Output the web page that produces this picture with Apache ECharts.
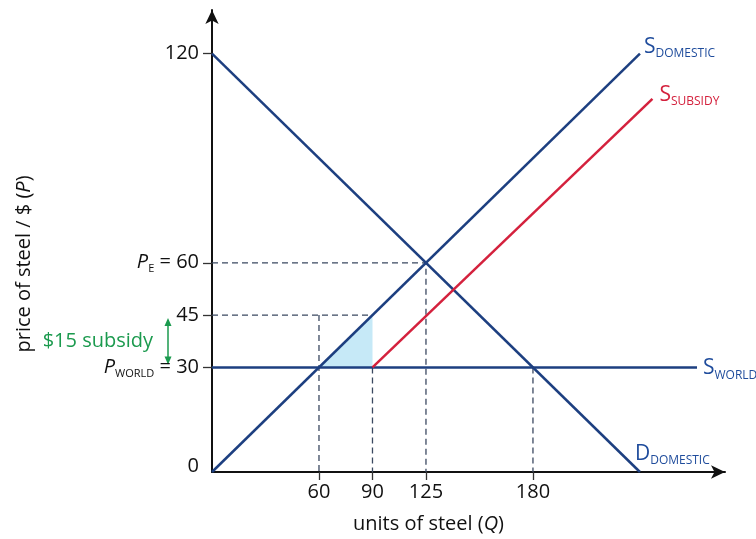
<!DOCTYPE html>
<html><head><meta charset="utf-8">
<script src="https://cdn.jsdelivr.net/npm/echarts@6/dist/echarts.min.js"></script>
<style>html,body{margin:0;padding:0;background:#fff}#c{width:756px;height:539px}</style>
</head><body><div id="c"></div>
<script>
// ---- data ----
const sDomesticQ = [0, 240];
const sDomesticP = [0, 120];
const dDomesticQ = [0, 240];
const dDomesticP = [120, 0];
const sSubsidyQ = [90, 247];
const sSubsidyP = [30, 107];
const sWorldQ = [0, 272];
const sWorldP = [30, 30];
const gainQ = [60, 90, 90];
const gainP = [30, 30, 45];
const guidePEQ = [0, 120, 120];
const guidePEP = [60, 60, 0];
const guide45Q = [0, 90];
const guide45P = [45, 45];
const guide60Q = [60, 60];
const guide60P = [45, 0];
const guide90Q = [90, 90];
const guide90P = [30, 0];
const guide180Q = [180, 180];
const guide180P = [30, 0];
const xTickValues = [60, 90, 120, 180];
const xTickLabels = ['60', '90', '125', '180'];
const yTickValues = [0, 30, 45, 60, 120];
const yTickLabels = ['{z|0}', '{i|P}{sub|WORLD}{n| = 30}', '45', '{i|P}{sub|E}{n| = 60}', '120'];
const yTickMarks = [30, 45, 60, 120];
const subsidyLow = 30, subsidyHigh = 45;

const FONT = 'Open Sans';
const BLUE = '#1d3f80';
const BLUE_TXT = '#1f4c9c';
const RED = '#d4213d';
const GREEN = '#1b9a4e';
const DASH = '#3a4860';

const zip = (a, b) => a.map((v, i) => [v, b[i]]);

const chart = echarts.init(document.getElementById('c'), null, {renderer: 'canvas'});

function guide(q, p) {
  return {type: 'line', data: zip(q, p), symbol: 'none', silent: true, z: 1,
    lineStyle: {color: DASH, width: 1.3, type: [6, 4]}};
}
function endLbl(main, sub, color, off) {
  return {show: true, formatter: '{m|' + main + '}{s|' + sub + '}', offset: off, distance: 0,
    rich: {
      m: {fontFamily: FONT, fontSize: 21, color: color, lineHeight: 26},
      s: {fontFamily: FONT, fontSize: 12, color: color, lineHeight: 9, verticalAlign: 'bottom'}
    }};
}

chart.setOption({
  animation: false,
  backgroundColor: '#fff',
  grid: {left: 212, top: 10, right: 31, bottom: 63},
  xAxis: {
    type: 'value', min: 0, max: 287.7,
    splitLine: {show: false},
    axisLine: {show: true, onZero: false, symbol: ['none', 'arrow'], symbolSize: [10, 14],
      lineStyle: {color: '#111', width: 2}},
    axisTick: {show: true, customValues: xTickValues, length: 8, lineStyle: {color: '#333', width: 1.3}},
    axisLabel: {customValues: xTickValues, margin: 10,
      formatter: v => xTickLabels[xTickValues.indexOf(v)],
      fontFamily: FONT, fontSize: 20, color: '#111'},
    name: '{n|units of steel (}{i|Q}{n|)}', nameLocation: 'middle', nameGap: 42,
    nameTextStyle: {padding: [0, 80, 0, 0], rich: {
      n: {fontFamily: FONT, fontSize: 20, color: '#111'},
      i: {fontFamily: FONT, fontSize: 20, color: '#111', fontStyle: 'italic'}}}
  },
  yAxis: {
    type: 'value', min: 0, max: 132.5,
    splitLine: {show: false},
    axisLine: {show: true, onZero: false, symbol: ['none', 'arrow'], symbolSize: [10, 14],
      lineStyle: {color: '#111', width: 2}},
    axisTick: {show: true, customValues: yTickMarks, length: 9, lineStyle: {color: '#333', width: 1.3}},
    axisLabel: {customValues: yTickValues, margin: 13,
      formatter: v => yTickLabels[yTickValues.indexOf(v)],
      fontFamily: FONT, fontSize: 20, color: '#111',
      rich: {
        n: {fontFamily: FONT, fontSize: 20, color: '#111', lineHeight: 24},
        i: {fontFamily: FONT, fontSize: 20, color: '#111', fontStyle: 'italic', lineHeight: 24},
        sub: {fontFamily: FONT, fontSize: 11, color: '#111', lineHeight: 9, verticalAlign: 'bottom'},
        z: {fontFamily: FONT, fontSize: 20, color: '#111', padding: [0, 0, 12, 0]}
      }},
    name: '{n|price of steel / $ (}{i|P}{n|)}', nameLocation: 'middle', nameGap: 178, nameRotate: 90,
    nameTextStyle: {padding: [0, 46, 0, 0], rich: {
      n: {fontFamily: FONT, fontSize: 20, color: '#111'},
      i: {fontFamily: FONT, fontSize: 20, color: '#111', fontStyle: 'italic'}}}
  },
  series: [
    guide(guidePEQ, guidePEP),
    guide(guide45Q, guide45P),
    guide(guide60Q, guide60P),
    guide(guide90Q, guide90P),
    guide(guide180Q, guide180P),
    {type: 'custom', silent: true, z: 2, data: zip(gainQ, gainP),
      renderItem: (params, api) => {
        if (params.dataIndex !== 0) return null;
        const pts = gainQ.map((q, i) => api.coord([q, gainP[i]]));
        return {type: 'polygon', shape: {points: pts}, style: {fill: '#c6e9f7'}};
      }},
    {type: 'line', name: 'S world', data: zip(sWorldQ, sWorldP), symbol: 'none', z: 3,
      lineStyle: {color: BLUE, width: 2.5}, endLabel: endLbl('S', 'WORLD', BLUE_TXT, [6, 1])},
    {type: 'line', name: 'D domestic', data: zip(dDomesticQ, dDomesticP), symbol: 'none', z: 3,
      lineStyle: {color: BLUE, width: 2.5}, endLabel: endLbl('D', 'DOMESTIC', BLUE_TXT, [-5, -18])},
    {type: 'line', name: 'S domestic', data: zip(sDomesticQ, sDomesticP), symbol: 'none', z: 4,
      lineStyle: {color: BLUE, width: 2.5}, endLabel: endLbl('S', 'DOMESTIC', BLUE_TXT, [4, -7])},
    {type: 'line', name: 'S subsidy', data: zip(sSubsidyQ, sSubsidyP), symbol: 'none', z: 4,
      lineStyle: {color: RED, width: 2.5}, endLabel: endLbl('S', 'SUBSIDY', RED, [7, -4])}
  ]
});

// subsidy annotation placed via the axis scale
const yLo = chart.convertToPixel({yAxisIndex: 0}, subsidyLow);
const yHi = chart.convertToPixel({yAxisIndex: 0}, subsidyHigh);
const x0 = chart.convertToPixel({xAxisIndex: 0}, 0);
const ax = x0 - 44;
chart.setOption({graphic: [
  {type: 'line', shape: {x1: ax, y1: yHi + 5, x2: ax, y2: yLo - 5}, style: {stroke: GREEN, lineWidth: 1.5}},
  {type: 'polygon', shape: {points: [[ax, yHi + 3], [ax - 3.5, yHi + 11], [ax + 3.5, yHi + 11]]}, style: {fill: GREEN}},
  {type: 'polygon', shape: {points: [[ax, yLo - 3], [ax - 3.5, yLo - 11], [ax + 3.5, yLo - 11]]}, style: {fill: GREEN}},
  {type: 'text', x: ax - 15, y: (yLo + yHi) / 2, style: {text: '$15 subsidy', fill: GREEN,
    font: '20px "' + FONT + '"', textAlign: 'right', textVerticalAlign: 'middle'}}
]});
</script></body></html>
